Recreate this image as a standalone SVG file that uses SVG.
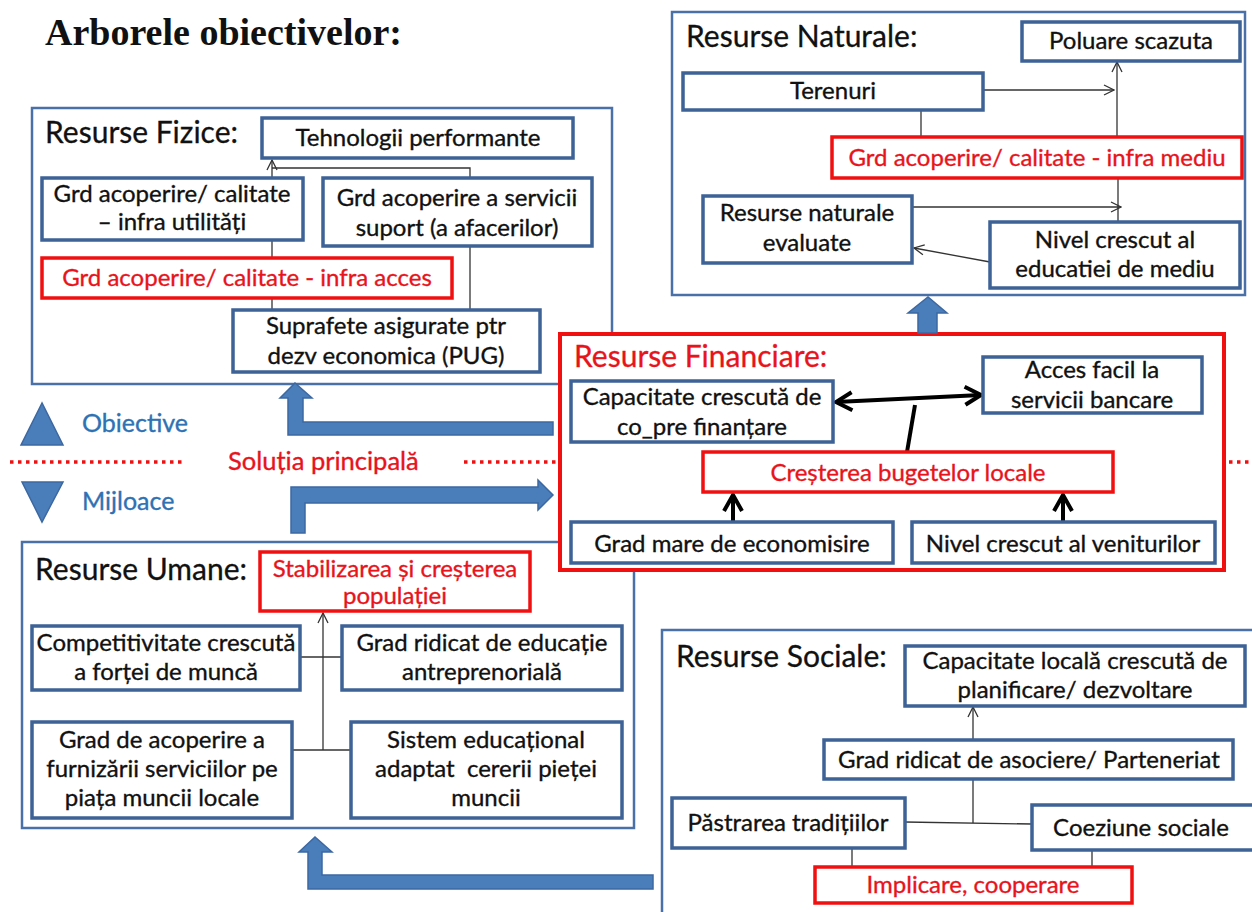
<svg xmlns="http://www.w3.org/2000/svg" width="1252" height="912" viewBox="0 0 1252 912">
<defs>
<style>
.grp{fill:#fff;stroke:#4a70a8;stroke-width:2.5}
.nd{fill:#fff;stroke:#3d6296;stroke-width:3.5}
.rd{fill:#fff;stroke:#f01010;stroke-width:3.5}
.t{font-family:Lato,"Liberation Sans",sans-serif;font-size:24px;fill:#111;stroke:#111;stroke-width:0.35;text-anchor:middle}
.tr{font-family:Lato,"Liberation Sans",sans-serif;font-size:24px;fill:#e8141c;stroke:#e8141c;stroke-width:0.35;text-anchor:middle}
.h{font-family:Lato,"Liberation Sans",sans-serif;font-size:30px;fill:#111;stroke:#111;stroke-width:0.3}
.hr{font-family:Lato,"Liberation Sans",sans-serif;font-size:30px;fill:#e8141c;stroke:#e8141c;stroke-width:0.3}
.bl{font-family:Lato,"Liberation Sans",sans-serif;font-size:25px;fill:#2e72b4;stroke:#2e72b4;stroke-width:0.35}
.ln{fill:none;stroke:#333;stroke-width:1.3}
.thk{fill:none;stroke:#000;stroke-width:4}
.blk{fill:#4a7ebb;stroke:#3c68a2;stroke-width:1.5}
.dot{fill:none;stroke:#f01010;stroke-width:3.5;stroke-dasharray:3.5 4.5}
</style>
<marker id="oa" viewBox="0 0 12 12" refX="11" refY="6" markerWidth="12" markerHeight="12" markerUnits="userSpaceOnUse" orient="auto-start-reverse">
<path d="M1,1 L11,6 L1,11" fill="none" stroke="#333" stroke-width="1.3"/>
</marker>
<marker id="ta" viewBox="0 0 22 22" refX="19" refY="11" markerWidth="22" markerHeight="22" markerUnits="userSpaceOnUse" orient="auto-start-reverse">
<path d="M3,2 L19,11 L3,20" fill="none" stroke="#000" stroke-width="4"/>
</marker>
</defs>
<rect width="1252" height="912" fill="#fff"/>

<text x="45" y="45" font-family="'Liberation Serif',serif" font-weight="bold" font-size="38" fill="#111">Arborele obiectivelor:</text>

<!-- group containers -->
<g id="grp-fizice"><rect class="grp" x="32" y="108" width="580" height="276"/><text class="h" x="45" y="143">Resurse Fizice:</text></g>
<g id="grp-naturale"><rect class="grp" x="672" y="12" width="573" height="283"/><text class="h" x="686" y="47">Resurse Naturale:</text></g>
<g id="grp-umane"><rect class="grp" x="22" y="542" width="612" height="286"/><text class="h" x="35" y="580">Resurse Umane:</text></g>
<g id="grp-sociale"><rect class="grp" x="662" y="630" width="600" height="300"/><text class="h" x="676" y="667">Resurse Sociale:</text></g>
<g id="grp-financiare"><rect x="560" y="334" width="664" height="236" fill="#fff" stroke="#f01010" stroke-width="4"/><text class="hr" x="574" y="367">Resurse Financiare:</text></g>

<!-- legend -->
<g id="legend">
<polygon class="blk" points="42,403 21,445 63,445"/>
<text class="bl" x="82" y="432">Obiective</text>
<polygon class="blk" points="22,482 63,482 42,522"/>
<text class="bl" x="82" y="510">Mijloace</text>
<line class="dot" x1="10" y1="462" x2="186" y2="462"/>
<text x="228" y="470" font-family="Lato,'Liberation Sans',sans-serif" font-size="25.5" fill="#e8141c" stroke="#e8141c" stroke-width="0.35">Soluția principală</text>
<line class="dot" x1="464" y1="462" x2="558" y2="462"/>
<line class="dot" x1="1229" y1="462" x2="1252" y2="462"/>
</g>

<!-- connectors -->
<g id="connectors">
<polygon class="blk" points="553,422 303,422 303,398 312,398 295,383 280,398 288,398 288,435 553,435"/>
<polygon class="blk" points="291,533 291,487 538,487 538,480 553,495 538,510 538,503 305,503 305,533"/>
<polygon class="blk" points="653,875 322,875 322,852 332,852 315,837 299,852 308,852 308,889 653,889"/>
<polygon class="blk" points="918,333 918,313 908,313 928,297 947,313 937,313 937,333"/>

<!-- fizice -->
<line class="ln" x1="272" y1="178" x2="272" y2="160" marker-end="url(#oa)"/>
<polyline class="ln" points="470,178 470,168 272,168"/>
<line class="ln" x1="272" y1="240" x2="272" y2="258"/>
<line class="ln" x1="272" y1="298" x2="272" y2="310"/>
<line class="ln" x1="470" y1="246" x2="470" y2="310"/>
<!-- naturale -->
<line class="ln" x1="983" y1="90" x2="1114" y2="90" marker-end="url(#oa)"/>
<line class="ln" x1="1117" y1="137" x2="1117" y2="62" marker-end="url(#oa)"/>
<line class="ln" x1="921" y1="110" x2="921" y2="137"/>
<line class="ln" x1="1118" y1="178" x2="1118" y2="222"/>
<line class="ln" x1="912" y1="207" x2="1121" y2="207" marker-end="url(#oa)"/>
<line class="ln" x1="990" y1="262" x2="914" y2="248" marker-end="url(#oa)"/>
<!-- financiare -->
<line class="thk" x1="836" y1="402" x2="981" y2="395" marker-start="url(#ta)" marker-end="url(#ta)"/>
<line class="thk" x1="915" y1="405" x2="907" y2="452"/>
<line class="thk" x1="733" y1="522" x2="733" y2="495" marker-end="url(#ta)"/>
<line class="thk" x1="1063" y1="522" x2="1063" y2="495" marker-end="url(#ta)"/>
<!-- umane -->
<line class="ln" x1="323" y1="750" x2="323" y2="613" marker-end="url(#oa)"/>
<line class="ln" x1="293" y1="657" x2="352" y2="657"/>
<line class="ln" x1="292" y1="750" x2="352" y2="750"/>
<!-- sociale -->
<line class="ln" x1="973" y1="740" x2="973" y2="707" marker-end="url(#oa)"/>
<line class="ln" x1="973" y1="779" x2="973" y2="823"/>
<line class="ln" x1="905" y1="822" x2="1032" y2="824"/>
<line class="ln" x1="852" y1="848" x2="852" y2="867"/>
<line class="ln" x1="1092" y1="850" x2="1092" y2="867"/>
</g>

<!-- Resurse Fizice nodes -->
<g id="n-tehnologii"><rect class="nd" x="262" y="118" width="311" height="40"/><text class="t" x="418" y="146">Tehnologii performante</text></g>
<g id="n-utilitati"><rect class="nd" x="42" y="178" width="261" height="62"/><text class="t" x="172" y="202">Grd acoperire/ calitate</text><text class="t" x="172" y="230">– infra utilități</text></g>
<g id="n-servicii"><rect class="nd" x="323" y="178" width="269" height="68"/><text class="t" x="457" y="206">Grd acoperire a servicii</text><text class="t" x="457" y="236">suport (a afacerilor)</text></g>
<g id="n-acces"><rect class="rd" x="42" y="258" width="410" height="40"/><text class="tr" x="247" y="286">Grd acoperire/ calitate - infra acces</text></g>
<g id="n-suprafete"><rect class="nd" x="233" y="310" width="307" height="62"/><text class="t" x="386" y="334">Suprafete asigurate ptr</text><text class="t" x="386" y="364">dezv economica (PUG)</text></g>

<!-- Resurse Naturale nodes -->
<g id="n-poluare"><rect class="nd" x="1022" y="22" width="218" height="39"/><text class="t" x="1131" y="49">Poluare scazuta</text></g>
<g id="n-terenuri"><rect class="nd" x="683" y="73" width="300" height="37"/><text class="t" x="833" y="99">Terenuri</text></g>
<g id="n-mediu"><rect class="rd" x="832" y="137" width="410" height="41"/><text class="tr" x="1037" y="166">Grd acoperire/ calitate - infra mediu</text></g>
<g id="n-evaluate"><rect class="nd" x="703" y="196" width="209" height="67"/><text class="t" x="807" y="221">Resurse naturale</text><text class="t" x="807" y="251">evaluate</text></g>
<g id="n-educatie-mediu"><rect class="nd" x="990" y="222" width="250" height="66"/><text class="t" x="1115" y="248">Nivel crescut al</text><text class="t" x="1115" y="277">educatiei de mediu</text></g>

<!-- Resurse Financiare nodes -->
<g id="n-capacitate"><rect class="nd" x="571" y="381" width="262" height="61"/><text class="t" x="702" y="405">Capacitate crescută de</text><text class="t" x="702" y="435">co_pre finanțare</text></g>
<g id="n-bancare"><rect class="nd" x="983" y="357" width="219" height="56"/><text class="t" x="1092" y="378">Acces facil la</text><text class="t" x="1092" y="408">servicii bancare</text></g>
<g id="n-bugete"><rect class="rd" x="703" y="452" width="410" height="40"/><text class="tr" x="908" y="481">Creșterea bugetelor locale</text></g>
<g id="n-economisire"><rect class="nd" x="571" y="522" width="322" height="41"/><text class="t" x="732" y="552">Grad mare de economisire</text></g>
<g id="n-venituri"><rect class="nd" x="912" y="522" width="303" height="41"/><text class="t" x="1063" y="552">Nivel crescut al veniturilor</text></g>

<!-- Resurse Umane nodes -->
<g id="n-populatie"><rect class="rd" x="260" y="552" width="270" height="59"/><text class="tr" x="395" y="577">Stabilizarea și creșterea</text><text class="tr" x="395" y="604">populației</text></g>
<g id="n-competitivitate"><rect class="nd" x="32" y="626" width="268" height="64"/><text class="t" x="166" y="651">Competitivitate crescută</text><text class="t" x="166" y="680">a forței de muncă</text></g>
<g id="n-antreprenoriala"><rect class="nd" x="342" y="626" width="280" height="64"/><text class="t" x="482" y="651">Grad ridicat de educație</text><text class="t" x="482" y="680">antreprenorială</text></g>
<g id="n-furnizare"><rect class="nd" x="32" y="722" width="260" height="96"/><text class="t" x="162" y="748">Grad de acoperire a</text><text class="t" x="162" y="777">furnizării serviciilor pe</text><text class="t" x="162" y="806">piața muncii locale</text></g>
<g id="n-sistem"><rect class="nd" x="351" y="722" width="271" height="96"/><text class="t" x="486" y="748">Sistem educațional</text><text class="t" x="486" y="777" xml:space="preserve">adaptat  cererii pieței</text><text class="t" x="486" y="806">muncii</text></g>

<!-- Resurse Sociale nodes -->
<g id="n-planificare"><rect class="nd" x="905" y="646" width="340" height="60"/><text class="t" x="1075" y="669">Capacitate locală crescută de</text><text class="t" x="1075" y="698">planificare/ dezvoltare</text></g>
<g id="n-asociere"><rect class="nd" x="824" y="740" width="409" height="39"/><text class="t" x="1029" y="768">Grad ridicat de asociere/ Parteneriat</text></g>
<g id="n-traditii"><rect class="nd" x="672" y="798" width="233" height="50"/><text class="t" x="788" y="831">Păstrarea tradițiilor</text></g>
<g id="n-coeziune"><rect class="nd" x="1032" y="805" width="230" height="45"/><text class="t" x="1141" y="836">Coeziune sociale</text></g>
<g id="n-implicare"><rect class="rd" x="815" y="867" width="317" height="36"/><text class="tr" x="973" y="893">Implicare, cooperare</text></g>
</svg>
